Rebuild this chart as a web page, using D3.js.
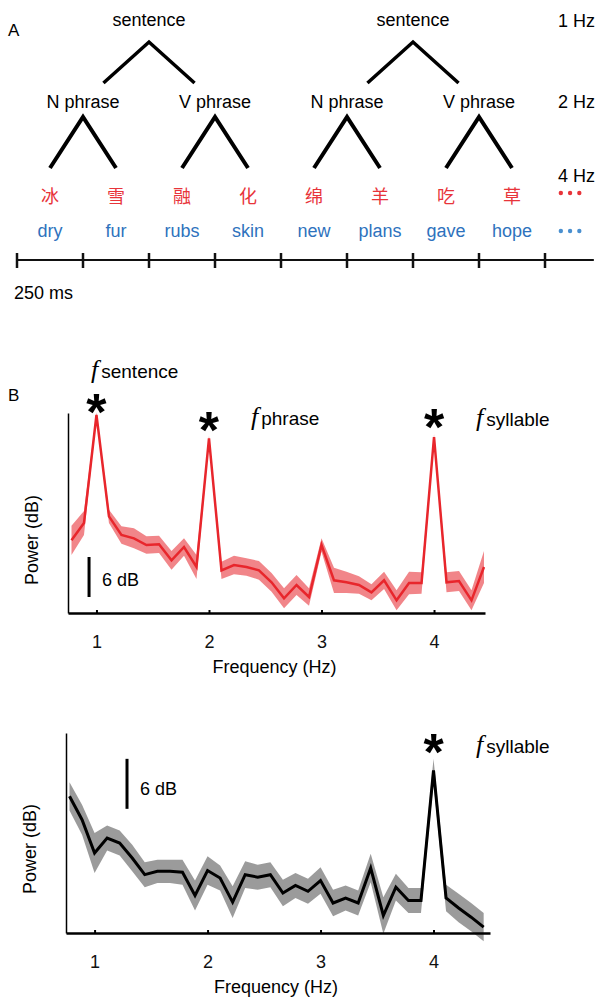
<!DOCTYPE html>
<meta charset="utf-8">
<style>
body { margin: 0; background: #fff; }
svg { font-family: "Liberation Sans", Arial, sans-serif; }
.axis path, .axis line { stroke: #000; }
.axis text { font-size: 18px; fill: #111; font-family: "Liberation Sans", Arial, sans-serif; }
</style>
<body>
<script src="https://cdn.jsdelivr.net/npm/d3@7"></script>
<script>

// ---- panel A data
var sentenceLabels = ["sentence", "sentence"];
var phraseLabels = ["N phrase", "V phrase", "N phrase", "V phrase"];
var chineseWords = ["冰", "雪", "融", "化", "绵", "羊", "吃", "草"];
var englishWords = ["dry", "fur", "rubs", "skin", "new", "plans", "gave", "hope"];
var rateLabels = ["1 Hz", "2 Hz", "4 Hz"];
var timeTicks = [0, 250, 500, 750, 1000, 1250, 1500, 1750, 2000];
var dotTimes = [2060, 2095, 2130];

// ---- panel B data (frequency in Hz, power in dB, error half-width in dB)
var freqs = [0.778, 0.889, 1.000, 1.111, 1.222, 1.333, 1.444, 1.556, 1.667, 1.778, 1.889,
             2.000, 2.111, 2.222, 2.333, 2.444, 2.556, 2.667, 2.778, 2.889, 3.000, 3.111,
             3.222, 3.333, 3.444, 3.556, 3.667, 3.778, 3.889, 4.000, 4.111, 4.222, 4.333, 4.444];
var redPower = [10.9, 13.5, 29.7, 14.5, 11.7, 11.2, 10.2, 10.3, 7.9, 9.9, 6.9,
                26.2, 6.4, 7.2, 6.9, 6.4, 4.6, 2.2, 4.2, 2.4, 10.2, 4.9,
                4.6, 4.2, 3.1, 4.9, 1.9, 4.5, 4.5, 26.4, 4.6, 4.8, 1.9, 6.9];
var redErr = [2.2, 1.8, 0.4, 1.0, 1.3, 1.5, 1.3, 1.3, 1.4, 1.3, 1.8,
              0.4, 1.3, 1.4, 1.3, 1.4, 1.4, 1.5, 1.5, 1.3, 1.0, 1.9,
              1.6, 1.3, 1.2, 1.3, 1.5, 1.7, 1.6, 0.4, 1.5, 1.5, 1.5, 2.4];
var blackPower = [16.4, 13.6, 9.6, 11.4, 10.8, 9.0, 7.0, 7.4, 7.4, 7.3, 4.5,
                  7.5, 6.6, 3.7, 7.0, 6.7, 7.0, 4.8, 5.7, 5.0, 6.3, 3.6,
                  4.2, 3.6, 7.8, 2.1, 5.5, 3.9, 3.9, 19.5, 4.2, 3.0, 1.9, 0.7];
var blackErr = [1.7, 1.8, 2.4, 1.5, 1.5, 1.6, 1.5, 1.4, 1.4, 1.5, 1.8,
                1.7, 1.5, 1.9, 1.6, 1.5, 1.5, 1.6, 1.5, 1.5, 1.6, 1.6,
                1.5, 1.5, 1.7, 2.2, 1.6, 1.5, 1.5, 1.4, 1.6, 1.7, 1.7, 1.7];
var freqTicks = [1, 2, 3, 4];

var red = "#e8343a", blue = "#2e72bd";

var svg = d3.select("body").append("svg")
  .attr("width", 598)
  .attr("height", 1000);

// ================= panel A =================
var t = d3.scaleLinear().domain([0, 2000]).range([17, 545]);
var slotCenter = function(i) { return t(125 + 250 * i); };

svg.append("text").attr("x", 8).attr("y", 36)
  .style("font-size", "17px").text("A");

// timeline
svg.append("line")
  .attr("x1", t(0)).attr("x2", t(2185))
  .attr("y1", 260).attr("y2", 260)
  .attr("stroke", "#111").attr("stroke-width", 2);
svg.selectAll(".tt").data(timeTicks).enter().append("line")
  .attr("x1", function(d) { return t(d); })
  .attr("x2", function(d) { return t(d); })
  .attr("y1", 253).attr("y2", 268)
  .attr("stroke", "#111").attr("stroke-width", 2.5);
svg.append("text").attr("x", 14).attr("y", 299)
  .style("font-size", "18px").text("250 ms");

// words
svg.selectAll(".zh").data(chineseWords).enter().append("text")
  .attr("x", function(d, i) { return slotCenter(i); })
  .attr("y", 203)
  .attr("text-anchor", "middle")
  .style("font-family", "'Noto Sans CJK SC', sans-serif")
  .style("font-size", "18px")
  .attr("fill", red)
  .text(function(d) { return d; });
svg.selectAll(".en").data(englishWords).enter().append("text")
  .attr("x", function(d, i) { return slotCenter(i); })
  .attr("y", 237)
  .attr("text-anchor", "middle")
  .style("font-size", "18px")
  .attr("fill", blue)
  .text(function(d) { return d; });
svg.selectAll(".rdot").data(dotTimes).enter().append("circle")
  .attr("cx", function(d) { return t(d); })
  .attr("cy", 193).attr("r", 2.2).attr("fill", red);
svg.selectAll(".bdot").data(dotTimes).enter().append("circle")
  .attr("cx", function(d) { return t(d); })
  .attr("cy", 231).attr("r", 2.2).attr("fill", "#4a90d0");

// phrases
var phraseX = phraseLabels.map(function(d, i) {
  return (slotCenter(2 * i) + slotCenter(2 * i + 1)) / 2;
});
svg.selectAll(".ph").data(phraseLabels).enter().append("text")
  .attr("x", function(d, i) { return phraseX[i]; })
  .attr("y", 108)
  .attr("text-anchor", "middle")
  .style("font-size", "18px")
  .text(function(d) { return d; });
phraseX.forEach(function(px, i) {
  svg.append("path")
    .attr("d", "M" + slotCenter(2 * i) + ",168L" + px + ",117L" + slotCenter(2 * i + 1) + ",168")
    .attr("fill", "none").attr("stroke", "#000").attr("stroke-width", 4);
});

// sentences
var sentX = sentenceLabels.map(function(d, i) {
  return (phraseX[2 * i] + phraseX[2 * i + 1]) / 2;
});
svg.selectAll(".se").data(sentenceLabels).enter().append("text")
  .attr("x", function(d, i) { return sentX[i]; })
  .attr("y", 26)
  .attr("text-anchor", "middle")
  .style("font-size", "18px")
  .text(function(d) { return d; });
sentX.forEach(function(sx, i) {
  var l = sx + (phraseX[2 * i] - sx) * 0.69,
      r = sx + (phraseX[2 * i + 1] - sx) * 0.69;
  svg.append("path")
    .attr("d", "M" + l + ",83L" + sx + ",42L" + r + ",83")
    .attr("fill", "none").attr("stroke", "#000").attr("stroke-width", 3.5);
});

svg.selectAll(".rate").data(rateLabels).enter().append("text")
  .attr("x", 558)
  .attr("y", function(d, i) { return [27, 108, 182][i]; })
  .style("font-size", "18px")
  .text(function(d) { return d; });

// ================= panel B =================
svg.append("text").attr("x", 8).attr("y", 401)
  .style("font-size", "17px").text("B");

function fLabel(x, y, sub) {
  var g = svg.append("text").attr("x", x).attr("y", y);
  g.append("tspan")
    .style("font-family", "'Liberation Serif', 'Times New Roman', serif")
    .style("font-style", "italic")
    .style("font-size", "26px")
    .text("f");
  g.append("tspan").attr("dx", 3)
    .style("font-size", "19px")
    .text(sub);
}

function star(x, y) {
  svg.append("text")
    .attr("x", x).attr("y", y + 27)
    .attr("text-anchor", "middle")
    .style("font-size", "52px")
    .style("font-weight", "bold")
    .text("*");
}

function spectrum(opt) {
  var x = d3.scaleLinear().domain(opt.xDomain).range(opt.xRange);
  var y = d3.scaleLinear().domain(opt.yDomain).range(opt.yRange);
  var g = svg.append("g");
  var pts = freqs.map(function(f, i) { return { f: f, p: opt.power[i], e: opt.err[i] }; });

  g.append("path")
    .datum(pts)
    .attr("d", d3.area()
      .x(function(d) { return x(d.f); })
      .y0(function(d) { return y(d.p - d.e); })
      .y1(function(d) { return y(d.p + d.e); }))
    .attr("fill", opt.band)
    .attr("fill-opacity", opt.bandOpacity);

  g.append("path")
    .datum(pts)
    .attr("d", d3.line()
      .x(function(d) { return x(d.f); })
      .y(function(d) { return y(d.p); }))
    .attr("fill", "none")
    .attr("stroke", opt.color)
    .attr("stroke-width", opt.lineWidth)
    .attr("stroke-linejoin", "miter");

  var xa = g.append("g")
    .attr("class", "axis")
    .attr("transform", "translate(0," + opt.yRange[0] + ")")
    .call(d3.axisBottom(x).tickValues(freqTicks).tickFormat(d3.format("d"))
      .tickSize(-3).tickSizeOuter(0).tickPadding(22));
  xa.select(".domain").attr("stroke-width", 2.5);
  xa.selectAll(".tick line").attr("stroke-width", 2);

  var ya = g.append("g")
    .attr("class", "axis")
    .attr("transform", "translate(" + opt.xRange[0] + ",0)")
    .call(d3.axisLeft(y).tickValues([]).tickSizeOuter(0));
  ya.select(".domain").attr("stroke-width", 1.5);

  g.append("text")
    .attr("x", (opt.xRange[0] + opt.xRange[1]) / 2 - 2)
    .attr("y", opt.yRange[0] + 60)
    .attr("text-anchor", "middle")
    .style("font-size", "18px")
    .text("Frequency (Hz)");

  g.append("text")
    .attr("transform", "translate(" + (opt.xRange[0] - 30) + "," + opt.labelY + ") rotate(-90)")
    .attr("text-anchor", "middle")
    .style("font-size", "18px")
    .text("Power (dB)");

  // 6 dB scale bar
  g.append("line")
    .attr("x1", x(opt.barF)).attr("x2", x(opt.barF))
    .attr("y1", y(opt.barDb)).attr("y2", y(opt.barDb + 6))
    .attr("stroke", "#000").attr("stroke-width", 3);
  g.append("text")
    .attr("x", x(opt.barF) + 13)
    .attr("y", y(opt.barDb + 1.7))
    .style("font-size", "18px")
    .text("6 dB");

  return { x: x, y: y };
}

var redPlot = spectrum({
  xDomain: [0.747, 4.453], xRange: [68, 485],
  yDomain: [0, 30], yRange: [613, 413],
  power: redPower, err: redErr,
  color: "#e8262c", band: "#e8343a", bandOpacity: 0.6, lineWidth: 2.5,
  barF: 0.934, barDb: 2.4, labelY: 540
});
star(redPlot.x(1), 403);
star(redPlot.x(2), 421);
star(redPlot.x(4), 418);
fLabel(91, 378, "sentence");
fLabel(251, 425, "phrase");
fLabel(476, 426, "syllable");

var blackPlot = spectrum({
  xDomain: [0.747, 4.5], xRange: [66, 490],
  yDomain: [0, 24], yRange: [933, 733],
  power: blackPower, err: blackErr,
  color: "#000", band: "#8a8a8a", bandOpacity: 0.85, lineWidth: 3,
  barF: 1.287, barDb: 14.9, labelY: 849
});
star(blackPlot.x(4), 743);
fLabel(476, 753, "syllable");

</script>
</body>
